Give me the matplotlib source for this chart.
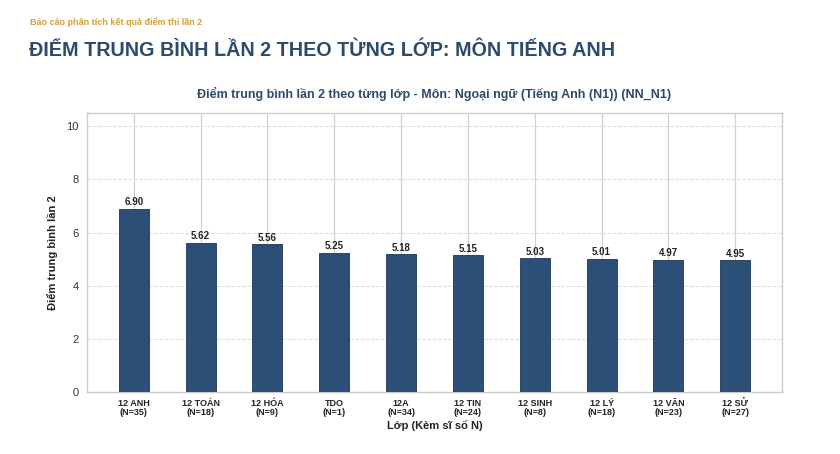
import matplotlib.pyplot as plt
import numpy as np

# Data
classes = ["12 ANH", "12 TOÁN", "12 HÓA", "TDO", "12A", "12 TIN", "12 SINH", "12 LÝ", "12 VĂN", "12 SỬ"]
counts = [35, 18, 9, 1, 34, 24, 8, 18, 23, 27]
scores = [6.90, 5.62, 5.56, 5.25, 5.18, 5.15, 5.03, 5.01, 4.97, 4.95]

plt.rcParams['font.family'] = ['Liberation Sans', 'DejaVu Sans']

bar_color = '#2b4f76'
title_color = '#2c4a6e'

fig = plt.figure(figsize=(8.4, 4.54), dpi=100)
ax = fig.add_axes([87 / 840, 1 - 392 / 454, 695 / 840, 279 / 454])

x = np.arange(len(classes))
ax.bar(x, scores, width=0.45, color=bar_color, edgecolor='#1f3550', linewidth=0.6, zorder=3)

for xi, v in zip(x, scores):
    ax.text(xi, v + 0.06, f"{v:.2f}", ha='center', va='bottom', fontsize=7, fontweight='bold', color='#222222', zorder=4)

ax.set_xlim(-0.7, 9.7)
ax.set_ylim(0, 10.5)
ax.set_yticks([0, 2, 4, 6, 8, 10])
ax.set_xticks(x)
ax.set_xticklabels([f"{c}\n(N={n})" for c, n in zip(classes, counts)], fontsize=6.5, fontweight='bold', color='#222222', linespacing=1.0)
ax.tick_params(axis='y', labelsize=8, colors='#333333', length=0, pad=6)
ax.tick_params(axis='x', length=0, pad=5)

ax.grid(axis='x', color='#d0d0d0', linewidth=0.9, zorder=0)
ax.grid(axis='y', color='#dddddd', linestyle='--', linewidth=0.7, zorder=0)
for s in ax.spines.values():
    s.set_color('#cccccc')
    s.set_linewidth(1.0)

ax.set_xlabel('Lớp (Kèm sĩ số N)', fontsize=8, fontweight='bold', color='#222222', labelpad=2)
ax.set_ylabel('Điểm trung bình lần 2', fontsize=8, fontweight='bold', color='#222222', labelpad=6)
ax.set_title('Điểm trung bình lần 2 theo từng lớp - Môn: Ngoại ngữ (Tiếng Anh (N1)) (NN_N1)',
             fontsize=9, fontweight='bold', color=title_color, pad=11)

fig.text(30 / 840, 1 - 22 / 454, 'Báo cáo phân tích kết quả điểm thi lần 2', fontsize=6.5, fontweight='bold', color='#d4a03c', va='center')
fig.text(29 / 840, 1 - 50 / 454, 'ĐIỂM TRUNG BÌNH LẦN 2 THEO TỪNG LỚP: MÔN TIẾNG ANH', fontsize=14.2, fontweight='bold', color=title_color, va='center')

fig.savefig('out.png', dpi=100)
